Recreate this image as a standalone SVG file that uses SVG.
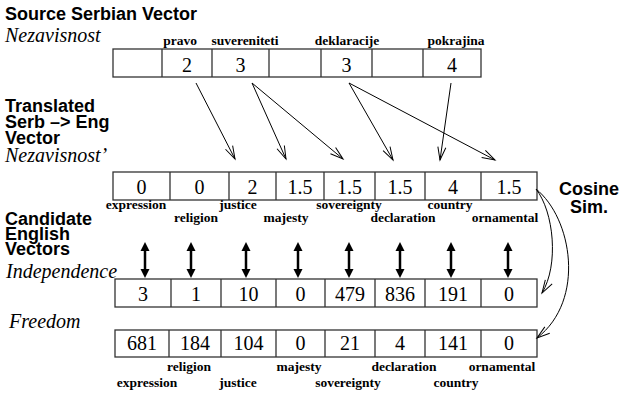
<svg xmlns="http://www.w3.org/2000/svg" width="619" height="396" viewBox="0 0 619 396">
<style>
.h{font-family:"Liberation Sans",Arial,sans-serif;font-weight:bold;font-size:18px;fill:#000}
.it{font-family:"Liberation Serif","Times New Roman",serif;font-style:italic;font-size:20px;fill:#000}
.num{font-family:"Liberation Serif","Times New Roman",serif;font-size:20px;fill:#000;text-anchor:middle}
.lab{font-family:"Liberation Serif","Times New Roman",serif;font-weight:bold;font-size:13.5px;fill:#000;text-anchor:middle}
.box{fill:#fff;stroke:#333;stroke-width:1.3}
.div{stroke:#333;stroke-width:1.3}
.thin{fill:none;stroke:#000;stroke-width:1}
.dbl{stroke:#000;stroke-width:2.5}
</style>
<defs>
<marker id="open" viewBox="-14 -6 16 12" refX="0" refY="0" markerWidth="16" markerHeight="12" markerUnits="userSpaceOnUse" orient="auto">
<path d="M-13,-4 L0,0 L-13,4" fill="none" stroke="#000" stroke-width="1"/>
</marker>
<marker id="solid" viewBox="-4 -6 12 12" refX="0" refY="0" markerWidth="12" markerHeight="12" markerUnits="userSpaceOnUse" orient="auto-start-reverse">
<path d="M-3,-4.5 L6,0 L-3,4.5 Z" fill="#000"/>
</marker>
</defs>
<rect width="619" height="396" fill="#fff"/>

<g id="titles">
<text class="h" x="5" y="20">Source Serbian Vector</text>
<text class="it" x="5" y="42">Nezavisnost</text>
<text class="h" x="5" y="112">Translated</text>
<text class="h" x="5" y="128">Serb –&gt; Eng</text>
<text class="h" x="5" y="144">Vector</text>
<text class="it" x="5" y="162">Nezavisnost’</text>
<text class="h" x="5" y="225">Candidate</text>
<text class="h" x="5" y="240">English</text>
<text class="h" x="5" y="255">Vectors</text>
<text class="it" x="6" y="278">Independence</text>
<text class="it" x="9" y="328">Freedom</text>
<text class="h" x="589" y="195" text-anchor="middle">Cosine</text>
<text class="h" x="589" y="213" text-anchor="middle">Sim.</text>
</g>

<g id="source-vector">
<rect class="box" x="113" y="49" width="368" height="28"/>
<path class="div" d="M162,49V77M212,49V77M269,49V77M321,49V77M372,49V77M423,49V77"/>
<text class="num" x="187" y="72">2</text>
<text class="num" x="240.5" y="72">3</text>
<text class="num" x="346.5" y="72">3</text>
<text class="num" x="452" y="72">4</text>
<text class="lab" x="180" y="45">pravo</text>
<text class="lab" x="245" y="45">suvereniteti</text>
<text class="lab" x="347" y="45">deklaracije</text>
<text class="lab" x="456" y="45">pokrajina</text>
</g>

<g id="translated-vector">
<rect class="box" x="113" y="172" width="424" height="28"/>
<path class="div" d="M170,172V200M229,172V200M276,172V200M324,172V200M375,172V200M425,172V200M481,172V200"/>
<text class="num" x="141.5" y="194">0</text>
<text class="num" x="199.5" y="194">0</text>
<text class="num" x="252.5" y="194">2</text>
<text class="num" x="300" y="194">1.5</text>
<text class="num" x="349.5" y="194">1.5</text>
<text class="num" x="400" y="194">1.5</text>
<text class="num" x="453" y="194">4</text>
<text class="num" x="509" y="194">1.5</text>
<text class="lab" x="136" y="209">expression</text>
<text class="lab" x="196" y="222">religion</text>
<text class="lab" x="238" y="209">justice</text>
<text class="lab" x="286" y="222">majesty</text>
<text class="lab" x="349" y="209">sovereignty</text>
<text class="lab" x="403" y="222">declaration</text>
<text class="lab" x="450" y="209">country</text>
<text class="lab" x="505" y="222">ornamental</text>
</g>

<g id="independence-vector">
<rect class="box" x="115" y="279" width="422" height="28"/>
<path class="div" d="M171,279V307M221,279V307M276,279V307M325,279V307M375,279V307M425,279V307M481,279V307"/>
<text class="num" x="143" y="301">3</text>
<text class="num" x="196" y="301">1</text>
<text class="num" x="248.5" y="301">10</text>
<text class="num" x="300.5" y="301">0</text>
<text class="num" x="350" y="301">479</text>
<text class="num" x="400" y="301">836</text>
<text class="num" x="453" y="301">191</text>
<text class="num" x="509" y="301">0</text>
</g>

<g id="freedom-vector">
<rect class="box" x="115" y="330" width="422" height="27"/>
<path class="div" d="M169,330V357M221,330V357M276,330V357M325,330V357M375,330V357M425,330V357M481,330V357"/>
<text class="num" x="142" y="350">681</text>
<text class="num" x="195" y="350">184</text>
<text class="num" x="248.5" y="350">104</text>
<text class="num" x="300.5" y="350">0</text>
<text class="num" x="350" y="350">21</text>
<text class="num" x="400" y="350">4</text>
<text class="num" x="453" y="350">141</text>
<text class="num" x="509" y="350">0</text>
<text class="lab" x="189" y="371">religion</text>
<text class="lab" x="299" y="371">majesty</text>
<text class="lab" x="404" y="371">declaration</text>
<text class="lab" x="502" y="371">ornamental</text>
<text class="lab" x="147" y="387">expression</text>
<text class="lab" x="238" y="387">justice</text>
<text class="lab" x="348" y="387">sovereignty</text>
<text class="lab" x="456" y="387">country</text>
</g>

<g id="connectors">
<line class="thin" x1="196" y1="83" x2="235" y2="159" marker-end="url(#open)"/>
<line class="thin" x1="252" y1="83" x2="286" y2="159" marker-end="url(#open)"/>
<line class="thin" x1="252" y1="83" x2="343" y2="159" marker-end="url(#open)"/>
<line class="thin" x1="349" y1="83" x2="393" y2="160" marker-end="url(#open)"/>
<line class="thin" x1="349" y1="83" x2="495" y2="160" marker-end="url(#open)"/>
<line class="thin" x1="451" y1="83" x2="440" y2="160" marker-end="url(#open)"/>
<line class="dbl" x1="145" y1="248" x2="145" y2="272" marker-start="url(#solid)" marker-end="url(#solid)"/>
<line class="dbl" x1="191" y1="248" x2="191" y2="272" marker-start="url(#solid)" marker-end="url(#solid)"/>
<line class="dbl" x1="246" y1="248" x2="246" y2="272" marker-start="url(#solid)" marker-end="url(#solid)"/>
<line class="dbl" x1="298" y1="248" x2="298" y2="272" marker-start="url(#solid)" marker-end="url(#solid)"/>
<line class="dbl" x1="349" y1="248" x2="349" y2="272" marker-start="url(#solid)" marker-end="url(#solid)"/>
<line class="dbl" x1="400" y1="248" x2="400" y2="272" marker-start="url(#solid)" marker-end="url(#solid)"/>
<line class="dbl" x1="451" y1="248" x2="451" y2="272" marker-start="url(#solid)" marker-end="url(#solid)"/>
<line class="dbl" x1="508" y1="248" x2="508" y2="272" marker-start="url(#solid)" marker-end="url(#solid)"/>
<path class="thin" d="M536,189 C554,212 559,265 542,293" marker-end="url(#open)"/>
<path class="thin" d="M536,189 C572,218 586,300 537,338" marker-end="url(#open)"/>
</g>
</svg>
